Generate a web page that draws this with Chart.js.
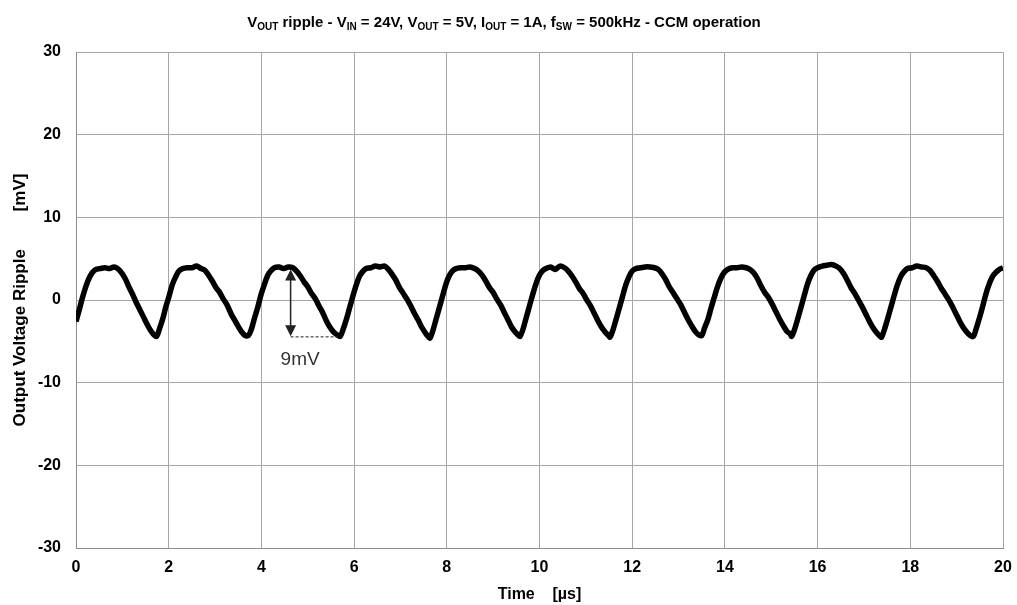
<!DOCTYPE HTML>
<html>
<head>
  <script src="https://cdn.jsdelivr.net/npm/chart.js"></script>
  <style>
    body { margin: 0; background: #fff; }
    #wrap { position: relative; width: 1017px; height: 605px; }
    #title {
      position: absolute; left: 0; top: 13px; width: 1008px; text-align: center;
      font: bold 15px "Liberation Sans", Arial, sans-serif; color: #000;
    }
    #title sub { font-size: 10px; vertical-align: -3px; line-height: 0; }
  </style>
</head>
<body>
  <div id="wrap">
    <div id="title">V<sub>OUT</sub> ripple - V<sub>IN</sub> = 24V, V<sub>OUT</sub> = 5V, I<sub>OUT</sub> = 1A, f<sub>SW</sub> = 500kHz - CCM operation</div>
    <canvas id="rippleChart" width="1017" height="605"></canvas>
  </div>

  <script>
    // Time axis [us] and ripple [mV], one line per cycle
    var timeUs = [
      0.00, 0.07, 0.14, 0.21, 0.28, 0.35, 0.43, 0.52, 0.62, 0.72, 0.82, 0.90, 0.98, 1.06, 1.14, 1.22, 1.30, 1.38, 1.46, 1.54, 1.61, 1.68,
      1.74, 1.80, 1.87, 1.94, 2.01, 2.08, 2.15, 2.22, 2.30, 2.40, 2.50, 2.60, 2.70, 2.78, 2.86, 2.94, 3.02, 3.10, 3.18, 3.26, 3.34, 3.42, 3.50, 3.58, 3.65,
      3.72, 3.78, 3.85, 3.92, 3.99, 4.06, 4.13, 4.20, 4.28, 4.38, 4.48, 4.58, 4.68, 4.76, 4.84, 4.92, 5.00, 5.08, 5.16, 5.24, 5.32, 5.40, 5.48, 5.56, 5.63,
      5.70, 5.76, 5.83, 5.90, 5.97, 6.04, 6.11, 6.18, 6.26, 6.36, 6.46, 6.56, 6.66, 6.74, 6.82, 6.90, 6.98, 7.06, 7.14, 7.22, 7.30, 7.38, 7.46, 7.54, 7.61,
      7.64, 7.70, 7.77, 7.84, 7.91, 7.98, 8.05, 8.12, 8.20, 8.30, 8.40, 8.50, 8.60, 8.68, 8.76, 8.84, 8.92, 9.00, 9.08, 9.16, 9.24, 9.32, 9.40, 9.48, 9.55,
      9.58, 9.64, 9.71, 9.78, 9.85, 9.92, 9.99, 10.06, 10.14, 10.24, 10.34, 10.44, 10.54, 10.62, 10.70, 10.78, 10.86, 10.94, 11.02, 11.10, 11.18, 11.26, 11.34, 11.42, 11.49,
      11.52, 11.58, 11.65, 11.72, 11.79, 11.86, 11.93, 12.00, 12.08, 12.18, 12.28, 12.38, 12.48, 12.56, 12.64, 12.72, 12.80, 12.88, 12.96, 13.04, 13.12, 13.20, 13.28, 13.36, 13.43,
      13.50, 13.56, 13.63, 13.70, 13.77, 13.84, 13.91, 13.98, 14.06, 14.16, 14.26, 14.36, 14.46, 14.54, 14.62, 14.70, 14.78, 14.86, 14.94, 15.02, 15.10, 15.18, 15.26, 15.34, 15.41,
      15.44, 15.50, 15.57, 15.64, 15.71, 15.78, 15.85, 15.92, 16.00, 16.10, 16.20, 16.30, 16.40, 16.48, 16.56, 16.64, 16.72, 16.80, 16.88, 16.96, 17.04, 17.12, 17.20, 17.28, 17.35,
      17.38, 17.44, 17.51, 17.58, 17.65, 17.72, 17.79, 17.86, 17.94, 18.04, 18.14, 18.24, 18.34, 18.42, 18.50, 18.58, 18.66, 18.74, 18.82, 18.90, 18.98, 19.06, 19.14, 19.22, 19.29,
      19.36, 19.42, 19.49, 19.56, 19.63, 19.70, 19.77, 19.84, 19.92, 20.00
    ];
    var rippleMv = [
      -2.6, -1.2, 0.3, 1.6, 2.6, 3.3, 3.7, 3.8, 3.9, 3.8, 4.0, 3.8, 3.3, 2.6, 1.6, 0.7, -0.3, -1.2, -2.1, -3.0, -3.7, -4.2,
      -4.4, -3.5, -2.3, -0.8, 0.5, 1.9, 2.8, 3.5, 3.8, 3.9, 3.9, 4.1, 3.8, 3.6, 3.0, 2.3, 1.5, 0.9, 0.1, -0.6, -1.6, -2.4, -3.2, -3.9, -4.3,
      -4.3, -3.6, -2.2, -0.9, 0.6, 1.8, 2.9, 3.5, 3.9, 4.0, 3.8, 4.0, 3.9, 3.5, 2.9, 2.2, 1.6, 0.8, 0.2, -0.7, -1.5, -2.5, -3.3, -3.9, -4.2,
      -4.4, -3.6, -2.4, -1.0, 0.4, 1.7, 2.8, 3.4, 3.8, 3.9, 4.1, 4.0, 4.1, 3.7, 3.1, 2.4, 1.5, 0.8, 0.1, -0.7, -1.6, -2.4, -3.3, -4.0, -4.5,
      -4.6, -3.7, -2.3, -0.9, 0.5, 1.9, 2.9, 3.5, 3.8, 3.9, 3.9, 4.0, 3.8, 3.5, 3.0, 2.3, 1.5, 0.9, 0.1, -0.6, -1.5, -2.4, -3.3, -3.9, -4.3,
      -4.4, -3.6, -2.2, -0.8, 0.6, 1.9, 2.9, 3.5, 3.8, 4.0, 3.7, 4.1, 3.9, 3.5, 2.9, 2.2, 1.4, 0.8, 0.0, -0.7, -1.6, -2.5, -3.3, -3.9, -4.3,
      -4.5, -3.7, -2.4, -1.0, 0.4, 1.8, 2.8, 3.5, 3.8, 3.9, 4.0, 4.0, 3.9, 3.7, 3.2, 2.5, 1.6, 0.9, 0.2, -0.5, -1.4, -2.3, -3.1, -3.8, -4.2,
      -4.3, -3.4, -2.4, -1.0, 0.3, 1.6, 2.6, 3.3, 3.7, 3.9, 3.9, 4.0, 3.9, 3.7, 3.3, 2.6, 1.7, 0.9, 0.3, -0.5, -1.4, -2.3, -3.1, -3.8, -4.1,
      -4.4, -3.6, -2.3, -0.9, 0.5, 1.9, 2.9, 3.6, 3.9, 4.1, 4.2, 4.3, 4.1, 3.8, 3.2, 2.4, 1.5, 0.8, 0.0, -0.8, -1.7, -2.6, -3.4, -4.0, -4.4,
      -4.5, -3.6, -2.3, -0.9, 0.5, 1.8, 2.8, 3.4, 3.8, 3.9, 4.1, 4.0, 3.9, 3.6, 3.0, 2.3, 1.5, 0.8, 0.1, -0.7, -1.6, -2.5, -3.3, -3.9, -4.3,
      -4.4, -3.5, -2.2, -0.8, 0.7, 1.9, 2.8, 3.3, 3.7, 3.9
    ];

    // axis ranges / ticks
    var xTicks = [0, 2, 4, 6, 8, 10, 12, 14, 16, 18, 20];
    var yTicks = [-30, -20, -10, 0, 10, 20, 30];

    // peak-to-peak marker: time of arrow, top and bottom values, end of dashed line
    var ppTime = 4.63;
    var ppTop = 3.7;
    var ppBottom = -4.4;
    var ppDashEnd = 5.72;
    var ppLabel = '9mV';

    var points = timeUs.map(function (t, i) { return { x: t, y: rippleMv[i] }; });

    var FONT = '"Liberation Sans", Arial, sans-serif';

    // draws the 9mV arrow + dashed line
    var ppMarker = {
      id: 'ppMarker',
      afterDatasetsDraw: function (chart) {
        var ctx = chart.ctx;
        var xs = chart.scales.x, ys = chart.scales.y;
        var x = xs.getPixelForValue(ppTime);
        var yTop = ys.getPixelForValue(ppTop);
        var yBot = ys.getPixelForValue(ppBottom);
        var xEnd = xs.getPixelForValue(ppDashEnd);
        ctx.save();
        ctx.strokeStyle = '#222';
        ctx.fillStyle = '#222';
        ctx.lineWidth = 1.5;
        ctx.beginPath();
        ctx.moveTo(x, yTop + 8);
        ctx.lineTo(x, yBot - 8);
        ctx.stroke();
        // heads
        ctx.beginPath();
        ctx.moveTo(x, yTop); ctx.lineTo(x - 5.5, yTop + 11); ctx.lineTo(x + 5.5, yTop + 11); ctx.closePath();
        ctx.fill();
        ctx.beginPath();
        ctx.moveTo(x, yBot); ctx.lineTo(x - 5.5, yBot - 11); ctx.lineTo(x + 5.5, yBot - 11); ctx.closePath();
        ctx.fill();
        // dashed reference
        ctx.lineWidth = 1;
        ctx.setLineDash([3, 2]);
        ctx.beginPath();
        ctx.moveTo(x, yBot + 0.5);
        ctx.lineTo(xEnd, yBot + 0.5);
        ctx.stroke();
        ctx.setLineDash([]);
        ctx.font = '19px ' + FONT;
        ctx.fillStyle = '#333';
        ctx.textAlign = 'left';
        ctx.textBaseline = 'middle';
        ctx.fillText(ppLabel, x - 10, yBot + 23);
        ctx.restore();
      }
    };

    var myContext = document.getElementById('rippleChart').getContext('2d');
    var myChart = new Chart(myContext, {
      type: 'line',
      data: {
        datasets: [{
          data: points,
          borderColor: '#000',
          borderWidth: 5.5,
          pointRadius: 0,
          tension: 0.3,
          fill: false
        }]
      },
      options: {
        responsive: false,
        animation: false,
        layout: { padding: { top: 52, right: 14, left: 0, bottom: 0 } },
        plugins: {
          legend: { display: false },
          tooltip: { enabled: false }
        },
        scales: {
          x: {
            type: 'linear',
            min: 0,
            max: 20,
            afterBuildTicks: function (scale) { scale.ticks = xTicks.map(function (v) { return { value: v }; }); },
            afterFit: function (scale) {
              scale.height = 57;
              // don't let the tick padding eat into the right margin
              scale.paddingLeft = 0;
              scale.paddingRight = 2;
            },
            grid: { color: '#a6a6a6', lineWidth: 1, drawTicks: false },
            border: { color: '#8c8c8c' },
            ticks: { color: '#000', padding: 10, font: { family: FONT, size: 16, weight: 'bold' } },
            title: {
              display: true,
              text: 'Time    [µs]',
              color: '#000',
              padding: { top: 0, bottom: 1 },
              font: { family: FONT, size: 16, weight: 'bold' }
            }
          },
          y: {
            min: -30,
            max: 30,
            afterBuildTicks: function (scale) { scale.ticks = yTicks.map(function (v) { return { value: v }; }); },
            afterFit: function (scale) { scale.width = 76; },
            grid: { color: '#a6a6a6', lineWidth: 1, drawTicks: false },
            border: { color: '#8c8c8c' },
            ticks: { color: '#000', padding: 15, font: { family: FONT, size: 16, weight: 'bold' } },
            title: {
              display: true,
              text: 'Output Voltage Ripple        [mV]',
              color: '#000',
              padding: { top: 10, bottom: 0 },
              font: { family: FONT, size: 17, weight: 'bold' }
            }
          }
        }
      },
      plugins: [ppMarker]
    });
  </script>
</body>
</html>
